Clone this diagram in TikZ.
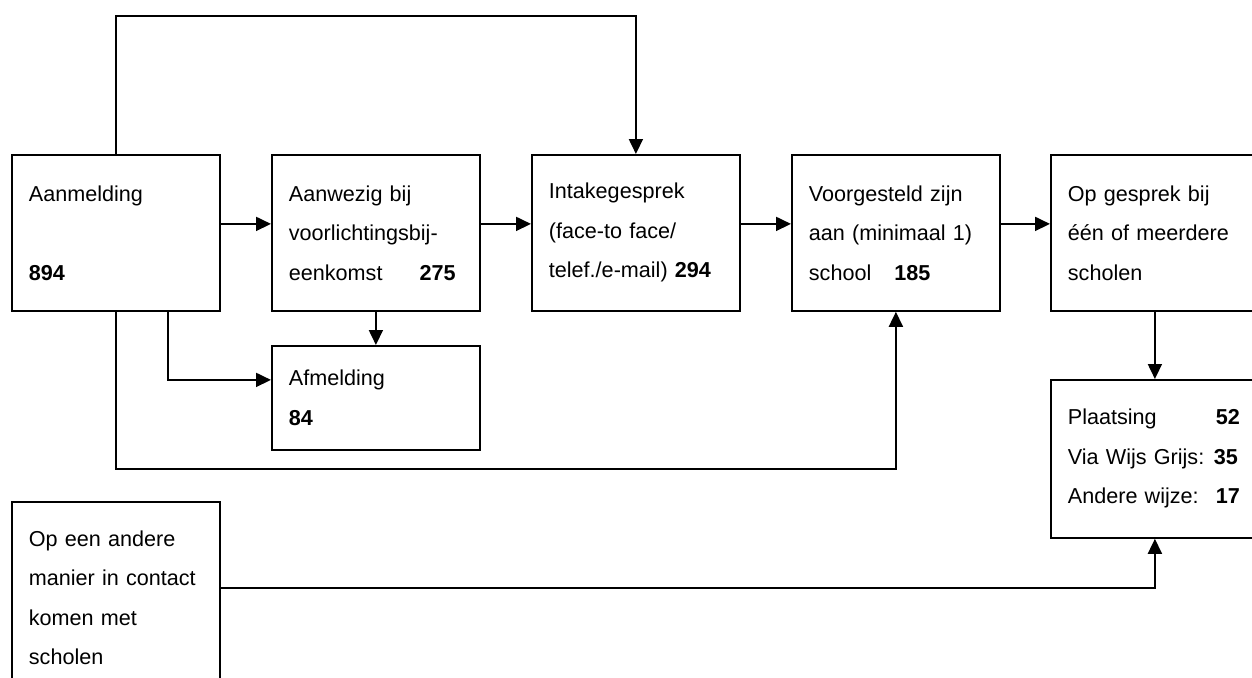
\documentclass[tikz,border=0pt]{standalone}
\usepackage{fontspec}
\setmainfont{Liberation Sans}
\usetikzlibrary{arrows.meta, positioning, calc}

\begin{document}
\begin{tikzpicture}
  [
    x=1pt, y=-1pt,
    >={Triangle[length=15pt, width=14pt]},
    box/.style  = {draw, rectangle, line width=1.8pt, anchor=north west, minimum width=208pt,
                   text width=174pt, inner xsep=17pt, inner ysep=0pt, align=left},
    flow/.style = {->, line width=1.8pt},
  ]

  \tikzstyle{every node}=[font=\fontsize{21.6}{39.5}\selectfont]

  % page
  \clip (0,0) rectangle (1252,677);

  \def\rowh{156pt}
  \def\up{9pt}

  % the top row
  \node (aanm) at (11,154) [box, minimum height=\rowh] {Aanmelding\\\mbox{}\\\textbf{894}};
  \node (aanw) at (271,154) [box, minimum height=\rowh] {Aanwezig bij\\voorlichtingsbij-\\eenkomst\hspace{37pt}\textbf{275}};
  \node (intake) at (531,154) [box, minimum height=\rowh] {Intakegesprek\\(face-to face/\\telef./e-mail) \textbf{294}};
  \node (voorg) at (791,154) [box, minimum height=\rowh] {Voorgesteld zijn\\aan (minimaal 1)\\school\hspace{23pt}\textbf{185}};
  \node (gespr) at (1050,154) [box, minimum height=\rowh] {Op gesprek bij\\één of meerdere\\scholen};

  % the lower boxes
  \node (afm) at (271,345) [box, minimum height=104pt] {Afmelding\\\textbf{84}};
  \node (plaats) at (1050,379) [box, minimum height=158pt]
    {\makebox[148pt][l]{Plaatsing}\textbf{52}\\\makebox[146pt][l]{Via Wijs Grijs:}\textbf{35}\\\makebox[148pt][l]{Andere wijze:}\textbf{17}};
  \node (contact) at (11,501) [box, minimum height=192pt] {Op een andere\\manier in contact\\komen met\\scholen};

  % along the row
  \foreach \from/\to in {aanm/aanw, aanw/intake, intake/voorg, voorg/gespr}
    {
      \draw[flow] ([yshift=\up]\from.east) -- ([yshift=\up]\to.west);
    }

  % the other lines
  \draw[flow] (aanm.north) -- ++(0,-138) -| (intake.north);
  \draw[flow] ([xshift=52pt]aanm.south) |- ([yshift=18pt]afm.west);
  \draw[flow] (aanw.south) -- (afm.north);
  \draw[flow] (aanm.south) -- ++(0,157) -| (voorg.south);
  \draw[flow] (gespr.south) -- (plaats.north);
  \draw[flow] ([yshift=10pt]contact.east) -| (plaats.south);

\end{tikzpicture}
\end{document}
